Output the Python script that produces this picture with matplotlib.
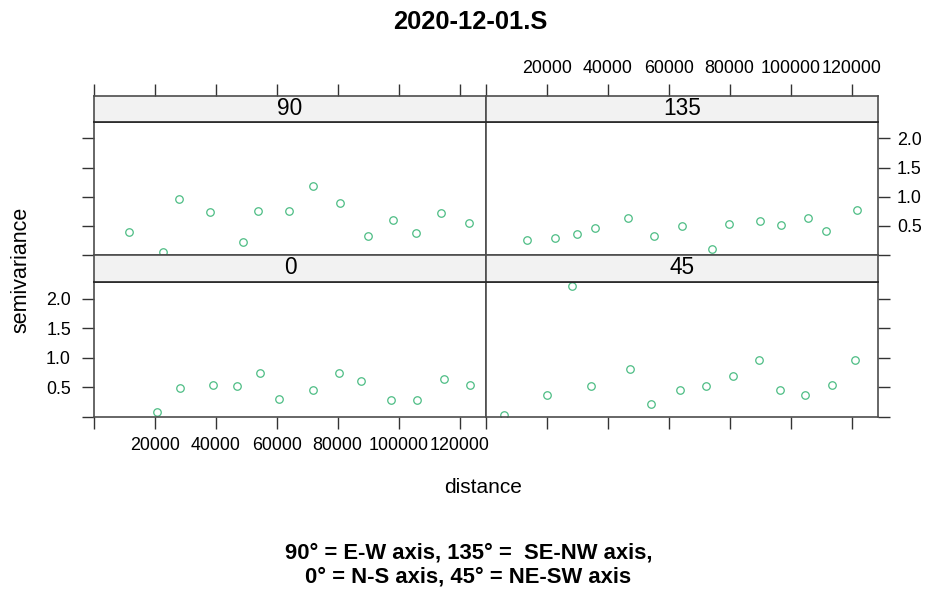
import matplotlib.pyplot as plt

plt.rcParams['font.family'] = ['Liberation Sans', 'DejaVu Sans']

W, H = 925, 589

# sample variogram points, one pair of lists per direction
dist_90 = [11540, 22790, 28040, 37970, 48790, 53710, 64100, 71750, 80830,
           89910, 98210, 105850, 113850, 123230]
gamma_90 = [0.39, 0.05, 0.96, 0.73, 0.22, 0.76, 0.76, 1.19, 0.90,
            0.32, 0.60, 0.375, 0.72, 0.55]

dist_135 = [13550, 22620, 29950, 35630, 46560, 55310, 64380, 74110, 79680,
            90060, 96950, 105590, 111600, 121750]
gamma_135 = [0.26, 0.30, 0.36, 0.455, 0.64, 0.32, 0.495, 0.11, 0.53,
             0.58, 0.51, 0.626, 0.415, 0.77]

dist_0 = [20590, 28140, 39080, 47050, 54370, 60600, 71750, 80500, 87810,
          97650, 106170, 114830, 123360]
gamma_0 = [0.08, 0.49, 0.54, 0.52, 0.75, 0.30, 0.45, 0.75, 0.60,
           0.28, 0.28, 0.64, 0.54]

dist_45 = [5900, 20000, 28300, 34530, 47220, 54200, 63710, 72240, 80990,
           89750, 96630, 104600, 113680, 121000]
gamma_45 = [0.034, 0.374, 2.21, 0.527, 0.81, 0.226, 0.45, 0.527, 0.70,
            0.96, 0.45, 0.374, 0.54, 0.96]

x_ticks = [0, 20000, 40000, 60000, 80000, 100000, 120000]
x_labels = ['', '20000', '40000', '60000', '80000', '100000', '120000']
y_ticks = [0, 0.5, 1.0, 1.5, 2.0]
y_labels = ['', '0.5', '1.0', '1.5', '2.0']

XLIM = (0, 128700)
YLIM = (0, 2.28)
PT_COL = '#4dbd84'
EDGE = '#4d4d4d'


def rect(x0, y0, x1, y1):
    # pixel box (top-left origin) -> figure fraction
    return [x0 / W, 1 - y1 / H, (x1 - x0) / W, (y1 - y0) / H]


fig = plt.figure(figsize=(W / 100, H / 100), dpi=100)

# (label, x, y, column px, plot top px, plot bottom px, strip top px)
panels = [
    ('90', dist_90, gamma_90, (94, 486), 122, 255, 96),
    ('135', dist_135, gamma_135, (486, 878), 122, 255, 96),
    ('0', dist_0, gamma_0, (94, 486), 282, 417, 255),
    ('45', dist_45, gamma_45, (486, 878), 282, 417, 255),
]

for i, (lab, xs, ys, (xl, xr), ptop, pbot, stop) in enumerate(panels):
    left_col = i % 2 == 0
    top_row = i < 2

    ax = fig.add_axes(rect(xl, ptop, xr, pbot))
    ax.plot(xs, ys, 'o', mfc='none', mec=PT_COL, ms=5.4, mew=0.9)
    ax.set_xlim(XLIM)
    ax.set_ylim(YLIM)
    for s in ax.spines.values():
        s.set_color(EDGE)
        s.set_linewidth(1.2)

    ax.set_yticks(y_ticks)
    ax.set_yticklabels(y_labels)
    ax.set_xticks(x_ticks)
    ax.set_xticklabels(x_labels)
    ax.tick_params(direction='out', length=8.6, width=1, color='#333333',
                   labelsize=12.9)
    ax.tick_params(axis='y', left=left_col, right=not left_col,
                   labelleft=(left_col and not top_row),
                   labelright=(not left_col and top_row))
    ax.tick_params(axis='y', which='both', pad=8 if left_col else 5)
    ax.tick_params(axis='x', bottom=not top_row, labelbottom=(left_col and not top_row),
                   top=False, labeltop=False, pad=6)

    # strip
    st = fig.add_axes(rect(xl, stop, xr, ptop))
    st.set_facecolor('#f2f2f2')
    st.set_xlim(XLIM)
    st.set_yticks([])
    st.set_xticks(x_ticks)
    st.set_xticklabels(x_labels)
    st.tick_params(axis='x', direction='out', length=8.6, width=1, color='#333333',
                   bottom=False, labelbottom=False, top=top_row,
                   labeltop=(top_row and not left_col), labelsize=12.9, pad=5)
    for s in st.spines.values():
        s.set_color(EDGE)
        s.set_linewidth(1.2)
    st.spines['bottom'].set_color('#222222')
    st.text(0.5, 0.52, lab, transform=st.transAxes, ha='center', va='center',
            fontsize=16.3)

fig.text(470 / W, 1 - 29 / H, '2020-12-01.S', ha='center', va='baseline',
         fontsize=18.4, fontweight='bold')
fig.text(483.5 / W, 1 - 493 / H, 'distance', ha='center', va='baseline',
         fontsize=15)
fig.text(20.5 / W, 1 - 270 / H, 'semivariance', ha='center', va='center',
         rotation=90, fontsize=15.5)
fig.text(469 / W, 1 - 558 / H, '90° = E-W axis, 135° =  SE-NW axis,',
         ha='center', va='baseline', fontsize=15.8, fontweight='bold')
fig.text(468 / W, 1 - 583 / H, '0° = N-S axis, 45° = NE-SW axis',
         ha='center', va='baseline', fontsize=15.8, fontweight='bold')

fig.savefig('out.png', dpi=100)
